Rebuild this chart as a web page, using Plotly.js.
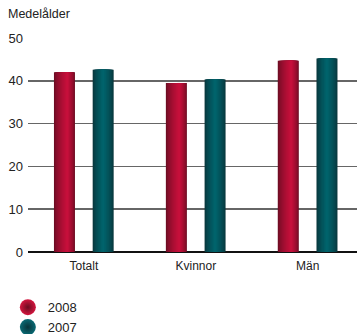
<!DOCTYPE html>
<html><head><meta charset="utf-8">
<script src="https://cdn.plot.ly/plotly-3.0.1.min.js"></script>
<style>html,body{margin:0;padding:0;background:#fff}#c{width:357px;height:334px}</style>
</head><body><div id="c"></div>
<script>
const categories = ['Totalt', 'Kvinnor', 'Män'];
const values2008 = [42.0, 39.5, 44.7];
const values2007 = [42.6, 40.3, 45.2];
const seriesNames = ['2008', '2007'];
const yTicks = [0, 10, 20, 30, 40, 50];

function hex(c){return [parseInt(c.slice(1,3),16),parseInt(c.slice(3,5),16),parseInt(c.slice(5,7),16)];}
function mix(a,b,u){const ca=hex(a), cb=hex(b);return ca.map((v,k)=>Math.round(v+(cb[k]-v)*u));}
function rgb(arr){return 'rgb('+arr.map(Math.round).join(',')+')';}

const barW = 0.1875;
const N = 14;
const traces = [];
// nested layers: shrinking towards highlight position h, edge colour -> highlight colour
function addSeries(vals, offset, h, leftC, rightC, hiC){
  for(let i=0;i<N;i++){
    const s=i/N;
    const l = s*h, r = 1 - s*(1-h);
    const edge = mix(leftC, rightC, 0.5);
    const u = Math.pow(s, 0.7);
    const hi = hex(hiC);
    const col = edge.map((v,k)=>v+(hi[k]-v)*u);
    traces.push({type:'bar', x:categories, y:vals, offset:offset + l*barW, width:(r-l)*barW,
      marker:{color:rgb(col), line:{width:0}}, showlegend:false, hoverinfo:'skip'});
  }
}
addSeries(values2008, -0.268, 0.64, '#5c0b1d', '#7e0e28', '#cc103d');
addSeries(values2007, 0.078, 0.5, '#0a343a', '#0a373d', '#00666f');

traces.push({type:'scatter', mode:'markers', x:[null], y:[null], name:seriesNames[0],
  marker:{size:16, color:'#d4163f', gradient:{type:'radial', color:'#6a0c20'}}});
traces.push({type:'scatter', mode:'markers', x:[null], y:[null], name:seriesNames[1],
  marker:{size:16, color:'#0a6a74', gradient:{type:'radial', color:'#08343a'}}});

const layout = {
  width:357, height:334,
  margin:{l:28, r:0, t:38, b:82, autoexpand:false},
  paper_bgcolor:'#fff', plot_bgcolor:'#fff',
  font:{family:'Liberation Sans, Arial, sans-serif', size:13, color:'#222'},
  barmode:'overlay',
  showlegend:true,
  legend:{xref:'container', yref:'container', x:0.022, xanchor:'left', y:0.125, yanchor:'top',
    orientation:'v', font:{size:13, color:'#222'}, tracegroupgap:0, bgcolor:'rgba(0,0,0,0)'},
  xaxis:{type:'category', range:[-0.5, 2.44], showgrid:false, zeroline:false, showline:false,
    ticks:'', ticklabelstandoff:5, tickfont:{size:12, color:'#222'}, fixedrange:true},
  yaxis:{range:[0,50], tickvals:yTicks, ticktext:yTicks.map(String), showgrid:true,
    gridcolor:'#666666', gridwidth:1.7, zeroline:true, zerolinecolor:'#111', zerolinewidth:2,
    ticks:'', ticklabelstandoff:4, tickfont:{size:13, color:'#222'}, fixedrange:true},
  annotations:[{text:'Medelålder', xref:'paper', yref:'paper', x:-0.066, y:1.11,
    xanchor:'left', yanchor:'middle', showarrow:false, font:{size:12.5, color:'#222'}}]
};
Plotly.newPlot('c', traces, layout, {staticPlot:true, displayModeBar:false});
</script></body></html>
